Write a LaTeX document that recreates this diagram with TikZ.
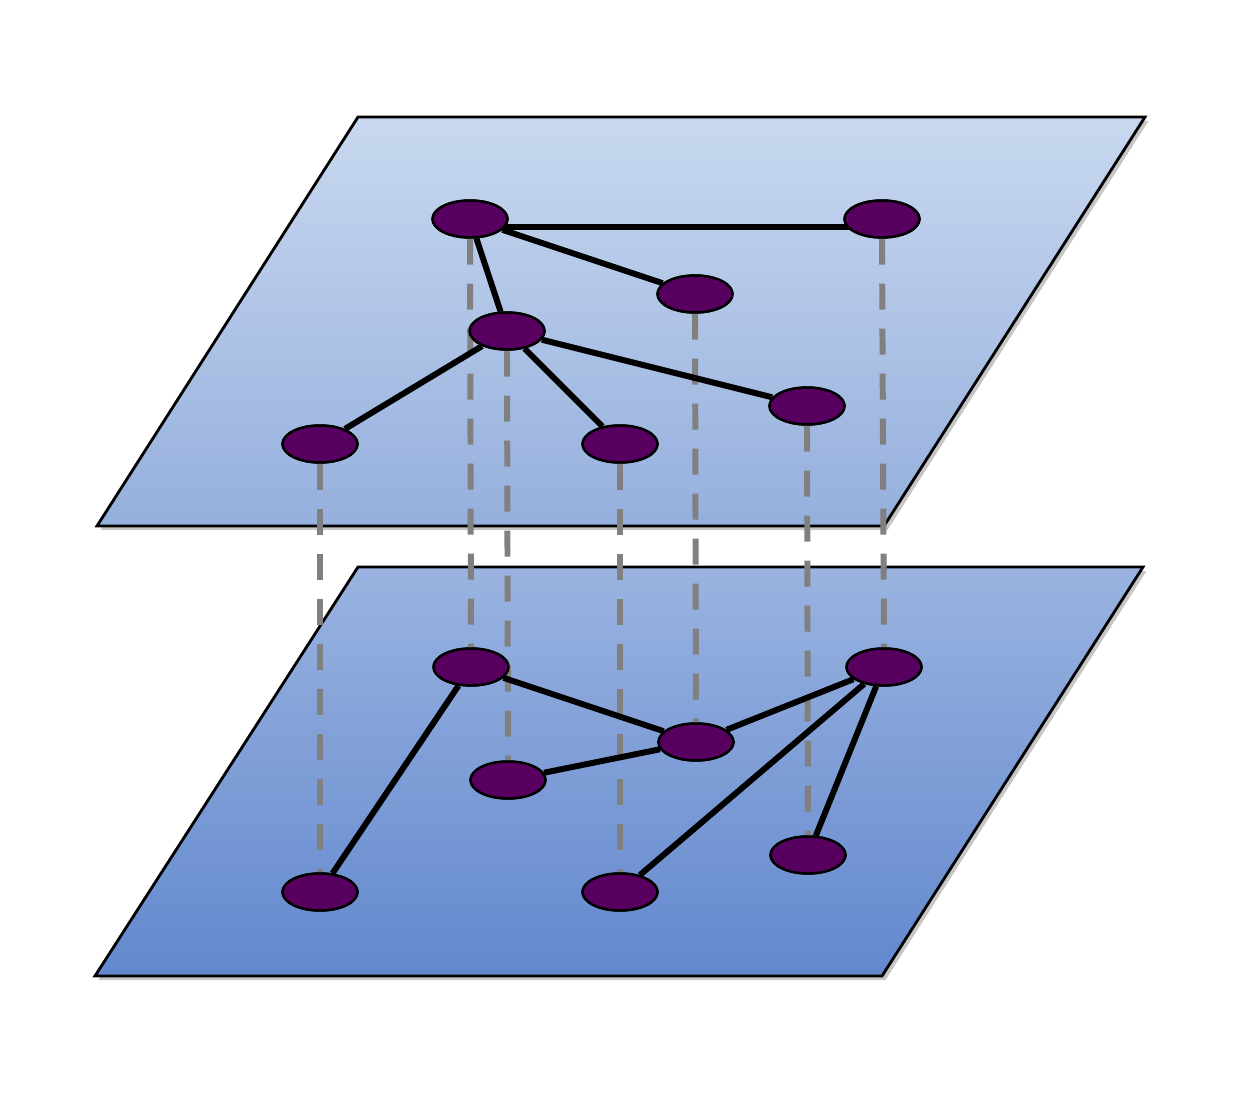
\documentclass[tikz,border=0pt]{standalone}
\usetikzlibrary{shapes.geometric,shadows}
\definecolor{vertexcol}{RGB}{88,0,96}
\definecolor{topA}{RGB}{200,216,239}
\definecolor{topB}{RGB}{149,175,221}
\definecolor{botA}{RGB}{154,179,224}
\definecolor{botB}{RGB}{98,136,206}
\tikzset{
  layer/.style={draw=black,line width=1.6pt,line join=miter,
    drop shadow={shadow xshift=0.07cm,shadow yshift=-0.08cm,opacity=0.45}},
  vertex/.style={ellipse,draw=black,line width=1.4pt,fill=vertexcol,
    minimum width=1.5cm,minimum height=0.74cm,inner sep=0pt},
  edge/.style={line width=3.4pt},
  couple/.style={gray,line width=3.4pt,dash pattern=on 14.8pt off 10.8pt}
}
\begin{document}
\begin{tikzpicture}[x=0.02cm,y=-0.02cm]
 \useasboundingbox (0,0) rectangle (1258,1108);
 % the two layers
 \draw[layer,top color=botA,bottom color=botB](358,567)--(1143,567)--(882,976)--(95,976)--cycle;
 \draw[layer,top color=topA,bottom color=topB](358,117)--(1145,117)--(884,526)--(97,526)--cycle;
 % upper layer
 \node[vertex] (t1) at (470,219) {};
 \node[vertex] (t2) at (882,219) {};
 \node[vertex] (t3) at (695,294) {};
 \node[vertex] (t4) at (507,331) {};
 \node[vertex] (t5) at (807,406) {};
 \node[vertex] (t6) at (320,444) {};
 \node[vertex] (t7) at (620,444) {};
 % lower layer
 \node[vertex] (b1) at (471,667) {};
 \node[vertex] (b2) at (884,667) {};
 \node[vertex] (b3) at (696,742) {};
 \node[vertex] (b4) at (508,780) {};
 \node[vertex] (b5) at (808,855) {};
 \node[vertex] (b6) at (320,892) {};
 \node[vertex] (b7) at (620,892) {};
 % interlayer couplings
 \foreach \v in {1,...,7}
   \draw[couple] (t\v.south) -- (b\v.north);
 % intralayer edges
 \draw[edge] ([yshift=-0.16cm]t1.center) -- ([yshift=-0.16cm]t2.center);
 \draw[edge] (t1) -- (t3);
 \draw[edge] (t1) -- (t4);
 \draw[edge] (t4) -- (t6);
 \draw[edge] (t4) -- (t7);
 \draw[edge] (t4) -- (t5);
 \draw[edge] (b1) -- (b6);
 \draw[edge] (b1) -- (b3);
 \draw[edge] (b3) -- (b4);
 \draw[edge] (b3) -- (b2);
 \draw[edge] (b2) -- (b7);
 \draw[edge] (b2) -- (b5);
 % vertices again on top
 \foreach \v in {t1,t2,t3,t4,t5,t6,t7,b1,b2,b3,b4,b5,b6,b7}
   \node[vertex] at (\v) {};
\end{tikzpicture}
\end{document}
